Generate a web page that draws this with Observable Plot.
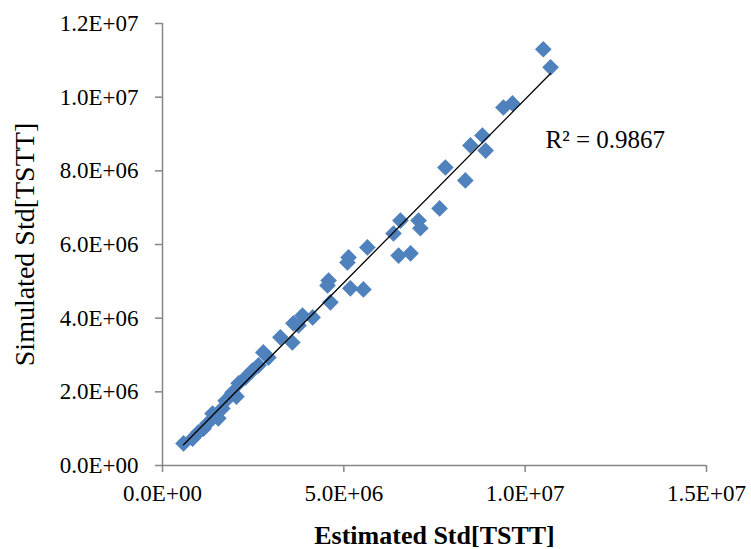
<!DOCTYPE html>
<html>
<head>
<meta charset="utf-8">
<script src="https://cdn.jsdelivr.net/npm/d3@7"></script>
<script src="https://cdn.jsdelivr.net/npm/@observablehq/plot@0.6"></script>
<style>
  html, body { margin: 0; padding: 0; background: #fff; }
  #chart svg { display: block; }
</style>
</head>
<body>
<div id="chart"></div>
<script>
// Estimated Std[TSTT] (x) and Simulated Std[TSTT] (y), in units of 1E+06
const estimatedStd = [0.58, 0.83, 0.99, 1.13, 1.24, 1.38, 1.54, 1.65, 1.74, 1.93, 2.04, 2.10, 2.29, 2.48, 2.65,
  2.78, 2.92, 3.25, 3.58, 3.61, 3.75, 3.86, 4.14, 4.63, 4.58, 4.55, 5.18, 5.54, 5.13, 5.10, 5.65,
  6.37, 6.51, 6.84, 6.56, 7.06, 7.11, 7.64, 7.80, 8.35, 8.49, 8.82, 8.91, 9.40, 9.65, 10.50, 10.70];
const simulatedStd = [0.60, 0.73, 0.90, 1.00, 1.14, 1.41, 1.28, 1.55, 1.76, 1.98, 1.87, 2.23, 2.39, 2.58, 2.72,
  3.07, 2.93, 3.48, 3.34, 3.86, 3.80, 4.07, 4.02, 4.43, 5.02, 4.89, 4.81, 4.78, 5.65, 5.51, 5.92,
  6.30, 5.70, 5.76, 6.65, 6.65, 6.44, 6.98, 8.09, 7.74, 8.69, 8.96, 8.55, 9.72, 9.83, 11.30, 10.81];
const unit = 1e6;
const xTicks = [0, 5e6, 1e7, 1.5e7];
const yTicks = [0, 2e6, 4e6, 6e6, 8e6, 1e7, 1.2e7];
const xLabel = "Estimated Std[TSTT]";
const yLabel = "Simulated Std[TSTT]";
const r2Text = "R² = 0.9867";
const r2Pos = [10.56e6, 8.84e6];

const points = estimatedStd.map((e, i) => ({x: e * unit, y: simulatedStd[i] * unit}));

function sci(d) {
  if (d === 0) return "0.0E+00";
  const exp = Math.floor(Math.log10(Math.abs(d)) + 1e-9);
  const m = d / Math.pow(10, exp);
  return m.toFixed(1) + "E+" + String(exp).padStart(2, "0");
}

const font = "'Liberation Serif', 'Times New Roman', serif";
const axisGray = "#868686";
const tickFont = 23;

const chart = Plot.plot({
  width: 751,
  height: 549,
  marginLeft: 162,
  marginRight: 45,
  marginTop: 23,
  marginBottom: 84,
  style: {fontFamily: font, background: "#fff", color: "black"},
  x: {domain: [0, 1.5e7]},
  y: {domain: [0, 1.2e7]},
  marks: [
    Plot.axisX({ticks: xTicks, tickFormat: () => "", tickSize: 7, stroke: axisGray, strokeWidth: 1.5, label: null}),
    Plot.axisY({ticks: yTicks, tickFormat: () => "", tickSize: 7, stroke: axisGray, strokeWidth: 1.5, label: null}),
    Plot.text(xTicks, {x: d => d, frameAnchor: "bottom", dy: 28, text: sci, fontSize: tickFont,
      fill: "black", lineAnchor: "middle"}),
    Plot.text(yTicks, {y: d => d, frameAnchor: "left", dx: -24, text: sci, fontSize: tickFont,
      fill: "black", textAnchor: "end", lineAnchor: "middle"}),
    Plot.ruleY([0], {stroke: axisGray, strokeWidth: 1.5}),
    Plot.ruleX([0], {stroke: axisGray, strokeWidth: 1.5}),
    Plot.dot(points, {x: "x", y: "y", symbol: "diamond2", r: 7.5, fill: "#4F81BD", stroke: "none"}),
    Plot.linearRegressionY(points, {x: "x", y: "y", ci: 0, stroke: "black", strokeWidth: 1.3}),
    Plot.text([r2Text], {x: () => r2Pos[0], y: () => r2Pos[1], text: d => d, textAnchor: "start",
      fontSize: 25, fill: "black"}),
    Plot.text([xLabel], {frameAnchor: "bottom", dy: 70, text: d => d, fontSize: 26, fontWeight: "bold",
      fill: "black", lineAnchor: "middle"}),
    Plot.text([yLabel], {frameAnchor: "left", dx: -137, rotate: -90, text: d => d, fontSize: 28,
      fill: "black", textAnchor: "middle", lineAnchor: "middle"})
  ]
});
document.getElementById("chart").appendChild(chart);
</script>
</body>
</html>
